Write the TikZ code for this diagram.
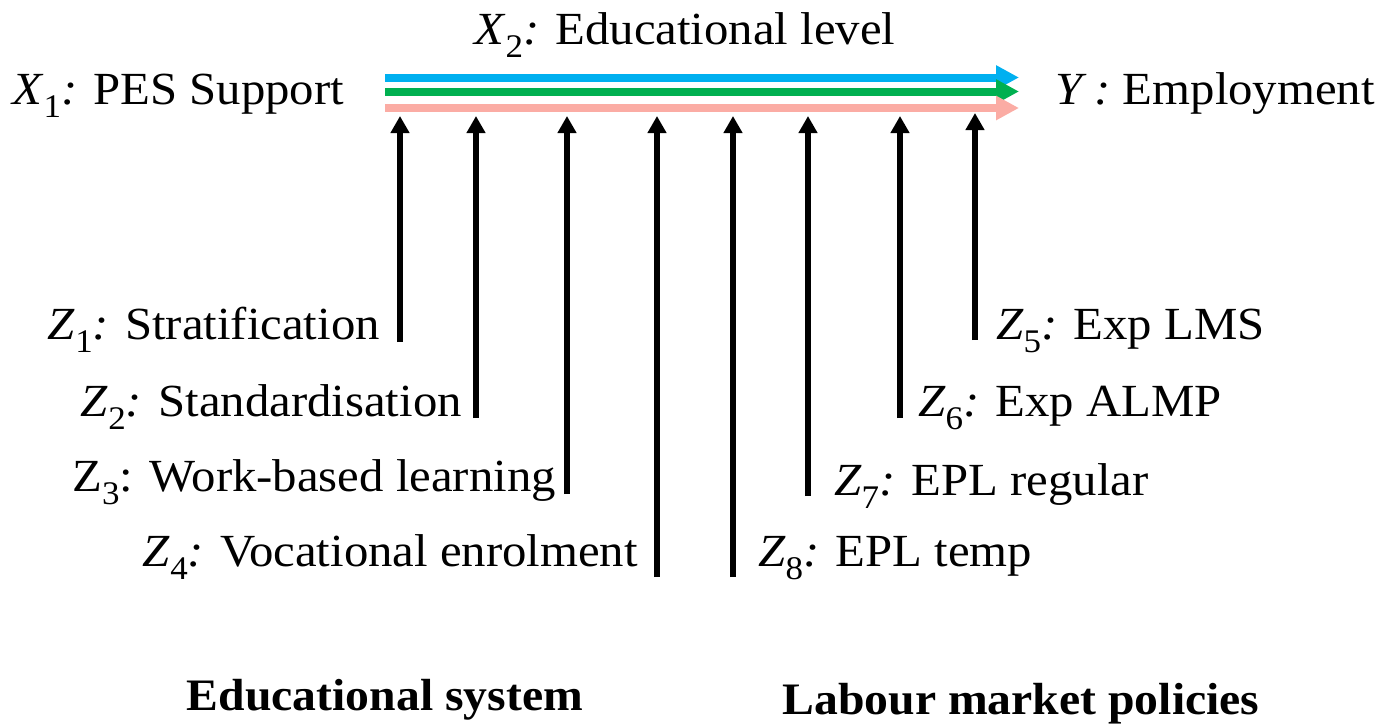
\documentclass[tikz,border=0pt]{standalone}
\usepackage{fontspec}
\setmainfont[FakeStretch=1.06]{Liberation Serif}
\usetikzlibrary{arrows.meta}

% variable name: italic letter, upright lowered index, italic colon
\newcommand\varit[2]{\textit{#1}\raisebox{-0.3em}{\fontsize{33}{33}\selectfont #2}\textit{:}}
\newcommand\varup[2]{#1\raisebox{-0.3em}{\fontsize{33}{33}\selectfont #2}:}

\definecolor{pathblue}{HTML}{00B0F0}
\definecolor{pathgreen}{HTML}{00B050}
\definecolor{pathpink}{HTML}{FBACA4}

\tikzset{
  lbl/.style={inner sep=0pt, font=\fontsize{46}{50}\selectfont},
  grouplbl/.style={inner sep=0pt, font=\fontsize{45}{50}\selectfont\bfseries},
  mainpath/.style={line width=8pt, -{Triangle[length=23pt,width=23pt]}},
  moderator/.style={line width=6pt, black, -{Triangle[length=17pt,width=18pt]}}
}

\begin{document}
\begin{tikzpicture}[x=1pt,y=-1pt]
\path[use as bounding box] (0,0) rectangle (1385,726);

% outcome and predictors
\node[lbl, anchor=base west] (x1) at (12,104) {\varit{X}{1} PES Support};
\node[lbl, anchor=base west] (x2) at (474,44) {\varit{X}{2} Educational level};
\node[lbl, anchor=base east] (y) at (1375,104) {\textit{Y :} Employment};

% the three parallel paths
\coordinate (bs) at (385,77.5);  \coordinate (be) at (1019,77.5);
\coordinate (gs) at (385,91.5);  \coordinate (ge) at (1019,91.5);
\coordinate (ps) at (385,108);   \coordinate (pe) at (1019,108);
\draw[mainpath, pathblue]  (bs) -- (be);
\draw[mainpath, pathgreen] (gs) -- (ge);
\draw[mainpath, pathpink]  (ps) -- (pe);

% educational system moderators
\node[lbl, anchor=base east] (z1) at (380,339) {\varit{Z}{1} Stratification};
\node[lbl, anchor=base east] (z2) at (462,416) {\varit{Z}{2} Standardisation};
\node[lbl, anchor=base east] (z3) at (556,491) {\varup{Z}{3} Work-based learning};
\node[lbl, anchor=base east] (z4) at (638,566) {\varit{Z}{4} Vocational enrolment};

% labour market moderators
\node[lbl, anchor=base west] (z5) at (996,339) {\varit{Z}{5} Exp LMS};
\node[lbl, anchor=base west] (z6) at (918,416) {\varit{Z}{6} Exp ALMP};
\node[lbl, anchor=base west] (z7) at (834,495) {\varit{Z}{7} EPL regular};
\node[lbl, anchor=base west] (z8) at (758,566) {\varit{Z}{8} EPL temp};

% moderator arrows
\coordinate (m1b) at (400,342); \coordinate (m1t) at (400,116);
\coordinate (m2b) at (476,418); \coordinate (m2t) at (476,116);
\coordinate (m3b) at (567,494); \coordinate (m3t) at (567,116);
\coordinate (m4b) at (657,577); \coordinate (m4t) at (657,116);
\coordinate (m8b) at (733,577); \coordinate (m8t) at (733,116);
\coordinate (m7b) at (808,496); \coordinate (m7t) at (808,116);
\coordinate (m6b) at (900,418); \coordinate (m6t) at (900,116);
\coordinate (m5b) at (975,340); \coordinate (m5t) at (975,113);
\foreach \m in {1,2,3,4,5,6,7,8}
  \draw[moderator] (m\m b) -- (m\m t);

% group headings
\node[grouplbl, anchor=base] (edu) at (385,710) {Educational system};
\node[grouplbl, anchor=base] (lab) at (1021,714) {Labour market policies};
\end{tikzpicture}
\end{document}
